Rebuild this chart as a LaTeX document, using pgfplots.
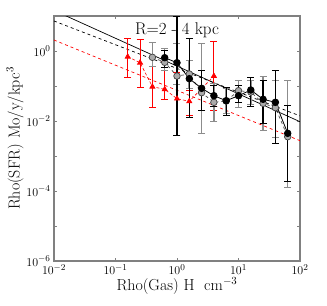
\documentclass[border=0pt]{standalone}
\usepackage{pgfplots}
\usepackage{pgfplotstable}
\pgfplotsset{compat=1.18}

\pgfplotstableread{
x y lo hi
0.158 0.687 0.181 2.35
0.251 0.463 0.0935 2.20
0.398 0.0955 0.0246 0.356
0.631 0.0805 0.0426 0.518
1.0 0.0434 0.00398 0.251
1.585 0.0366 0.0148 0.0735
3.981 0.193 0.0206 1.845
}\redtab

\pgfplotstableread{
x y lo hi
0.398 0.661 0.356 1.73
0.631 0.475 0.287 1.22
1.0 0.193 0.114 1.69
1.585 0.220 0.0877 0.553
2.512 0.0644 0.00454 1.69
3.981 0.0342 0.01 0.122
6.31 0.0373 0.0169 0.0877
10 0.0735 0.0251 0.148
15.85 0.0675 0.0306 0.148
25.12 0.0321 0.00553 0.193
39.81 0.024 0.00349 0.148
63.1 0.00356 0.00013 0.148
}\greytab

\pgfplotstableread{
x y lo hi
0.631 0.644 0.349 1.07
1.0 0.463 0.00398 9.6
1.585 0.162 0.013 2.35
2.512 0.0859 0.0206 0.287
3.981 0.0528 0.0268 0.107
6.31 0.038 0.0148 0.0935
10 0.0528 0.0349 0.107
15.85 0.0769 0.0268 0.181
25.12 0.0417 0.00877 0.148
39.81 0.0342 0.00235 0.287
63.1 0.00445 0.000193 0.0286
}\blacktab

\definecolor{axgrey}{RGB}{128,128,128}
\definecolor{bargrey}{RGB}{140,140,140}
\definecolor{ptgrey}{RGB}{170,170,170}

\begin{document}
\begin{tikzpicture}
\useasboundingbox (-54bp,-45bp) rectangle (273bp,261bp);
\begin{axis}[
  at={(0,0)}, anchor=south west,
  scale only axis, width=246bp, height=245bp,
  xmode=log, ymode=log,
  xmin=0.01, xmax=100, ymin=1e-6, ymax=10,
  log basis x=10, log basis y=10,
  xtick={0.01,0.1,1,10,100},
  xticklabels={$10^{-2}$,$10^{-1}$,$10^{0}$,$10^{1}$,$10^{2}$},
  ytick={1e-6,1e-5,1e-4,1e-3,1e-2,1e-1,1,10},
  yticklabels={$10^{-6}$,,$10^{-4}$,,$10^{-2}$,,$10^{0}$,},
  minor tick length=0pt,
  major tick length=3bp,
  tick align=inside,
  ticks=both,
  axis line style={draw=axgrey, line width=1.1bp},
  every tick/.style={axgrey, line width=0.8bp},
  tick label style={font=\fontsize{13}{15}\selectfont},
  label style={font=\fontsize{16}{19}\selectfont},
  xlabel={Rho(Gas) H\ \ cm$^{-3}$},
  ylabel={Rho(SFR) Mo/y/kpc$^3$},
  xlabel style={yshift=4bp},
  ylabel style={yshift=-4bp},
  clip=true,
]
% fit lines
\addplot[black, line width=0.7bp] coordinates {(0.01,14.4) (100,0.00955)};
\addplot[black, dashed, line width=0.7bp] coordinates {(0.01,7.2) (100,0.014)};
\addplot[red, dashed, line width=0.7bp] coordinates {(0.01,2.06) (100,0.00274)};

% red series
\addplot[red, densely dashed, line width=0.6bp,
  mark=triangle*, mark size=3bp, mark options={solid, fill=red, draw=red},
  error bars/.cd, y dir=both, y explicit,
  error bar style={red, solid, line width=1bp},
  error mark options={rotate=90, mark size=3.5bp, red, solid, line width=0.8bp}]
  table[x=x, y=y, y error plus expr=\thisrow{hi}-\thisrow{y}, y error minus expr=\thisrow{y}-\thisrow{lo}] {\redtab};

% grey series
\addplot[black!70, dashed, line width=0.7bp,
  mark=*, mark size=3.3bp, mark options={solid, fill=ptgrey, draw=black!75, line width=0.7bp},
  error bars/.cd, y dir=both, y explicit,
  error bar style={bargrey, solid, line width=1.6bp},
  error mark options={rotate=90, mark size=3.5bp, bargrey, solid, line width=0.9bp}]
  table[x=x, y=y, y error plus expr=\thisrow{hi}-\thisrow{y}, y error minus expr=\thisrow{y}-\thisrow{lo}] {\greytab};

% black series
\addplot[black, solid, line width=0.8bp,
  mark=*, mark size=3.3bp, mark options={solid, fill=black, draw=black},
  error bars/.cd, y dir=both, y explicit,
  error bar style={black, solid, line width=1.2bp},
  error mark options={rotate=90, mark size=3.5bp, black, solid, line width=0.9bp}]
  table[x=x, y=y, y error plus expr=\thisrow{hi}-\thisrow{y}, y error minus expr=\thisrow{y}-\thisrow{lo}] {\blacktab};

\node[font=\fontsize{17}{20}\selectfont, inner sep=1bp] at (rel axis cs:0.5,0.94) {R=2 - 4 kpc};
\end{axis}
\end{tikzpicture}
\end{document}
